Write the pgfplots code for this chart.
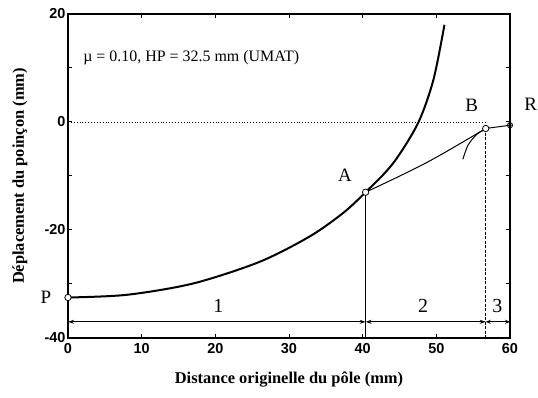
\documentclass[border=0pt]{standalone}
\usepackage{pgfplots}
\pgfplotsset{compat=1.18}
\usepackage{fontspec}
\setmainfont{Liberation Serif}
\newfontfamily\tickfont{Liberation Sans}
\usetikzlibrary{arrows.meta}
\begin{document}
\begin{tikzpicture}
\useasboundingbox (-68bp,-60bp) rectangle (470bp,338bp);
\begin{axis}[
  scale only axis, width=442bp, height=324bp,
  xmin=0, xmax=60, ymin=-40, ymax=20,
  xtick={0,10,...,60}, xticklabels={0,10,20,30,40,50,60},
  ytick={-40,-30,...,20}, yticklabels={-40,,-20,,0,,20},
  tick align=inside, major tick length=4bp,
  axis line style={line width=1.6bp},
  every tick/.style={line width=1bp, black},
  tick label style={font=\tickfont\bfseries\fontsize{14.5}{14.5}\selectfont},
  xticklabel style={yshift=-2bp},
  yticklabel style={xshift=1bp},
  xlabel={\bfseries Distance originelle du pôle (mm)},
  ylabel={\bfseries Déplacement du poinçon (mm)},
  label style={font=\fontsize{16.5}{16.5}\selectfont},
  xlabel style={at={(axis description cs:0.5,0)}, anchor=center, yshift=-42bp},
  ylabel style={at={(axis description cs:0,0.5)}, anchor=center, xshift=0bp, yshift=48bp},
  clip=false,
]
% zero reference line
\addplot[dotted, line width=0.9bp] coordinates {(0,0) (56.7,0)};
% vertical lines
\addplot[line width=0.7bp] coordinates {(40.4,-13.0) (40.4,-40)};
\addplot[dashed, dash pattern=on 3bp off 1.5bp, line width=0.7bp] coordinates {(56.7,-1.2) (56.7,-40)};
% main thick curve
\addplot[smooth, line width=2bp] coordinates {
  (0,-32.5) (8,-32.0) (17,-29.9) (26,-25.9) (32.8,-21.2) (37.3,-16.9)
  (40.4,-13.0) (44.1,-7.7) (47.5,-0.25) (49.6,7.8) (51.1,18)};
% thin curve A-B
\addplot[smooth, tension=0.6, line width=1bp] coordinates {
  (40.4,-13.0) (48.7,-7.5) (56.7,-1.2)};
% small arc near B
\addplot[smooth, line width=1bp] coordinates {
  (53.6,-6.9) (54.3,-4.3) (55.4,-2.4) (56.4,-1.5)};
% B to R
\addplot[line width=1bp] coordinates {(56.7,-1.2) (60,-0.6)};
% points
\addplot[only marks, mark=*, mark options={fill=white, draw=black, line width=0.8bp}, mark size=3.2bp]
  coordinates {(0,-32.5) (40.4,-13.0) (56.7,-1.2)};
\addplot[only marks, mark=oplus, mark options={draw=black, line width=0.8bp}, mark size=2.6bp]
  coordinates {(60,-0.6)};
% arrows
\addplot[{Stealth[length=6bp,width=4bp]}-{Stealth[length=6bp,width=4bp]}, line width=0.8bp] coordinates {(0,-37) (40.4,-37)};
\addplot[{Stealth[length=6bp,width=4bp]}-{Stealth[length=6bp,width=4bp]}, line width=0.8bp] coordinates {(40.4,-37) (56.7,-37)};
\addplot[{Stealth[length=5bp,width=4bp]}-{Stealth[length=5bp,width=4bp]}, line width=0.8bp] coordinates {(56.7,-37) (60,-37)};
% labels
\node[font=\fontsize{19}{19}\selectfont] at (axis cs:-3,-32.5) {P};
\node[font=\fontsize{19}{19}\selectfont] at (axis cs:37.6,-9.8) {A};
\node[font=\fontsize{19}{19}\selectfont] at (axis cs:54.8,3.1) {B};
\node[font=\fontsize{19}{19}\selectfont] at (axis cs:62.8,3.3) {R};
\node[font=\fontsize{20}{20}\selectfont] at (axis cs:20.4,-34) {1};
\node[font=\fontsize{20}{20}\selectfont] at (axis cs:48.2,-34) {2};
\node[font=\fontsize{20}{20}\selectfont] at (axis cs:58.3,-34) {3};
\node[anchor=west, font=\fontsize{16}{16}\selectfont] at (axis cs:1.6,12) {µ = 0.10, HP = 32.5 mm (UMAT)};
\end{axis}
\end{tikzpicture}
\end{document}
